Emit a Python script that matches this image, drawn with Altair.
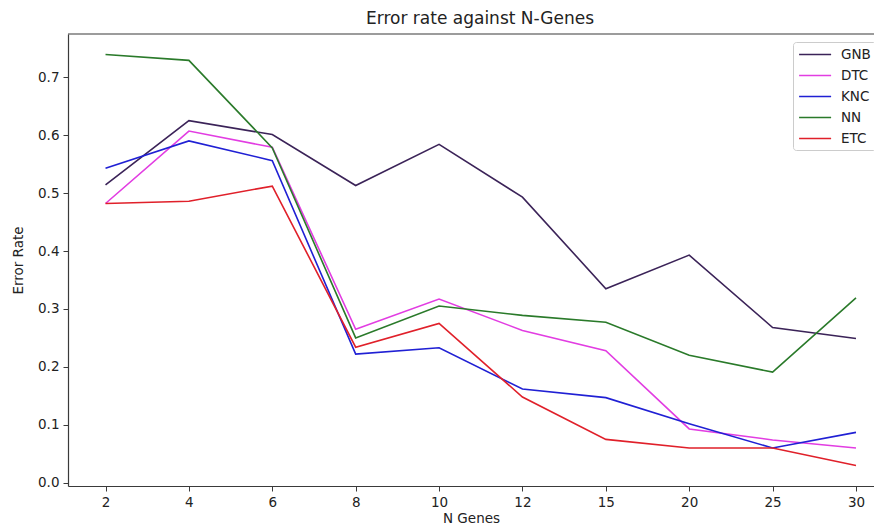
import json
import altair as alt
import pandas as pd

genes = ["2", "4", "6", "8", "10", "12", "15", "20", "25", "30"]
models = ["GNB", "DTC", "KNC", "NN", "ETC"]
colors = ["#3b2358", "#e23de2", "#2020d4", "#2a7a2a", "#e0202a"]

gnb = [0.514, 0.625, 0.601, 0.513, 0.584, 0.493, 0.335, 0.393, 0.268, 0.249]
dtc = [0.482, 0.607, 0.579, 0.265, 0.317, 0.263, 0.228, 0.093, 0.074, 0.060]
knc = [0.543, 0.590, 0.556, 0.222, 0.233, 0.162, 0.147, 0.102, 0.060, 0.087]
nn = [0.739, 0.729, 0.578, 0.250, 0.305, 0.289, 0.277, 0.220, 0.191, 0.319]
etc = [0.482, 0.486, 0.512, 0.234, 0.275, 0.148, 0.075, 0.060, 0.060, 0.030]

series = {"GNB": gnb, "DTC": dtc, "KNC": knc, "NN": nn, "ETC": etc}
rows = []
for m in models:
    for i, (g, v) in enumerate(zip(genes, series[m])):
        rows.append({"idx": i, "genes": g, "model": m, "err": v})
df = pd.DataFrame(rows)

font = "DejaVu Sans"
label_expr = json.dumps(genes) + "[datum.value]"

lines = alt.Chart(df).mark_line(strokeWidth=1.6).encode(
    x=alt.X(
        "idx:Q",
        scale=alt.Scale(domain=[-0.45, 9.216], nice=False, zero=False),
        axis=alt.Axis(
            title="N Genes",
            values=list(range(len(genes))),
            labelExpr=label_expr,
            grid=False,
            tickSize=5,
            labelPadding=4,
            titlePadding=3,
        ),
    ),
    y=alt.Y(
        "err:Q",
        scale=alt.Scale(domain=[-0.0055, 0.7745], nice=False, zero=False),
        axis=alt.Axis(
            title="Error Rate",
            values=[0.0, 0.1, 0.2, 0.3, 0.4, 0.5, 0.6, 0.7],
            format=".1f",
            grid=False,
            tickSize=5,
            labelPadding=4,
            titlePadding=12,
        ),
    ),
    color=alt.Color(
        "model:N",
        scale=alt.Scale(domain=models, range=colors),
        legend=alt.Legend(
            title=None,
            orient="none",
            legendX=725,
            legendY=8,
            strokeColor="#cccccc",
            fillColor="white",
            cornerRadius=3,
            padding=5,
            rowPadding=7,
            labelFont=font,
            labelFontSize=13.5,
            labelColor="#222222",
            symbolType="M-1,0H4",
            symbolSize=164,
            symbolStrokeWidth=1.6,
            labelOffset=28,
        ),
    ),
    detail="model:N",
)

top_border = alt.Chart(alt.Data(values=[{}])).mark_rule(
    color="#3a3a3a", strokeWidth=1.2
).encode(y=alt.value(0))

chart = (
    alt.layer(lines, top_border)
    .properties(
        width=806,
        height=452,
        autosize=alt.AutoSizeParams(type="none"),
        padding={"left": 60, "top": 26, "right": 0, "bottom": 40},
        title=alt.Title(
            "Error rate against N-Genes",
            font=font,
            fontSize=17,
            fontWeight="normal",
            color="#222222",
            offset=5,
            dx=9,
        ),
    )
    .configure_view(stroke=None)
    .configure_axis(
        labelFont=font,
        labelFontSize=13.5,
        labelColor="#222222",
        titleFont=font,
        titleFontSize=13.5,
        titleFontWeight="normal",
        titleColor="#222222",
        domainColor="#3a3a3a",
        domainWidth=1.2,
        tickColor="#3a3a3a",
        tickWidth=1,
    )
)

chart.save("out.html", embed_options={"renderer": "svg", "actions": False})
